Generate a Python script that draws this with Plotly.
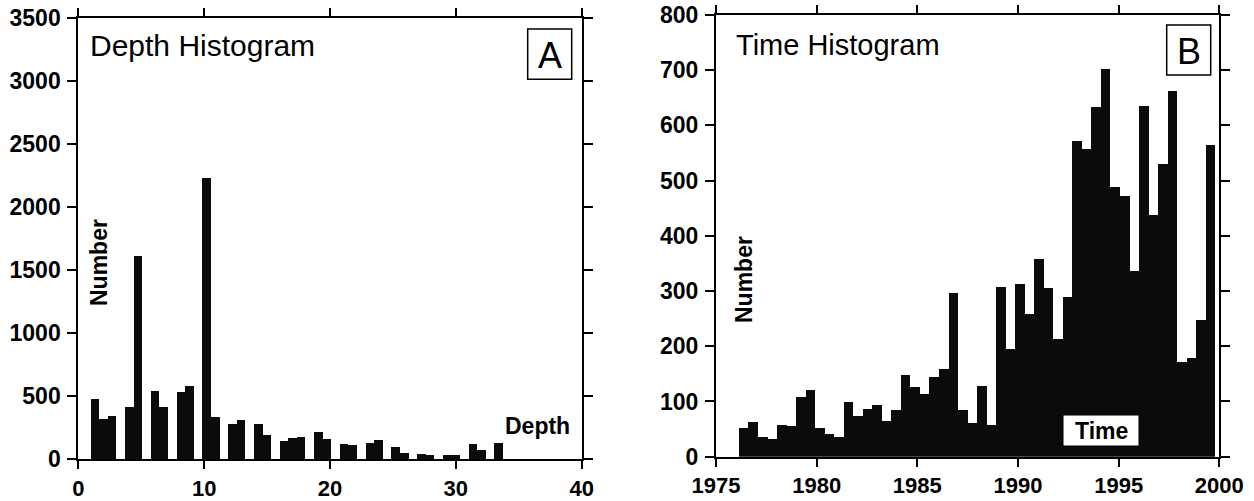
import plotly.graph_objects as go

W, H = 1254, 501

# ---- Data ----
depth_bin_start = 1.01
depth_bin_width = 0.6826
depth_counts = [476, 317, 344, 0, 410, 1614, 0, 537, 410, 0, 529, 576, 0, 2233, 333, 0,
                280, 307, 0, 280, 188, 0, 140, 164, 172, 0, 211, 159, 0, 119, 111, 0,
                127, 148, 0, 95, 45, 0, 42, 32, 0, 34, 34, 0, 119, 71, 0, 127]

time_bin_start = 1976.14
time_bin_width = 0.4732
time_counts = [52, 62, 35, 32, 58, 56, 108, 120, 52, 42, 35, 99, 73, 87, 93, 65, 84, 148,
               126, 113, 145, 159, 297, 84, 61, 128, 58, 307, 195, 313, 258, 358, 306, 214,
               289, 572, 557, 633, 702, 489, 472, 337, 636, 438, 531, 662, 171, 178, 248, 564]

depth_ticks = [0, 10, 20, 30, 40]
depth_y_ticks = [0, 500, 1000, 1500, 2000, 2500, 3000, 3500]
time_ticks = [1975, 1980, 1985, 1990, 1995, 2000]
time_y_ticks = [0, 100, 200, 300, 400, 500, 600, 700, 800]

depth_centers = [depth_bin_start + (i + 0.5) * depth_bin_width for i in range(len(depth_counts))]
time_centers = [time_bin_start + (i + 0.5) * time_bin_width for i in range(len(time_counts))]

def px(x):
    return x / W

def py(y):
    return (H - y) / H

FONT = "Liberation Sans, Arial, sans-serif"
BAR = "#0b0b0b"

fig = go.Figure()
fig.add_trace(go.Bar(x=depth_centers, y=depth_counts, width=depth_bin_width,
                     marker=dict(color=BAR, line=dict(width=0)), xaxis="x", yaxis="y",
                     showlegend=False))
fig.add_trace(go.Bar(x=time_centers, y=time_counts, width=time_bin_width,
                     marker=dict(color=BAR, line=dict(width=0)), xaxis="x2", yaxis="y2",
                     showlegend=False))

axis_common = dict(showgrid=False, zeroline=False, showline=True, linecolor="black",
                   linewidth=2, mirror="ticks", ticks="outside", tickwidth=2,
                   tickcolor="black", automargin=False)
yfont = dict(family=FONT, size=23, color="black", weight="bold")
xfont = dict(family=FONT, size=22, color="black", weight="bold")

fig.update_layout(
    width=W, height=H,
    margin=dict(l=0, r=0, t=0, b=0, autoexpand=False),
    paper_bgcolor="white", plot_bgcolor="white",
    bargap=0,
    xaxis=dict(domain=[px(78.3), px(581.7)], range=[0, 40], tickvals=depth_ticks,
               anchor="y", ticklabelstandoff=0, ticklen=8, tickfont=xfont, **axis_common),
    yaxis=dict(domain=[py(459.3), py(18.3)], range=[0, 3500], tickvals=depth_y_ticks,
               anchor="x", ticklabelstandoff=2, ticklen=9, tickfont=yfont, **axis_common),
    xaxis2=dict(domain=[px(716), px(1219.3)], range=[1975, 2000], tickvals=time_ticks,
                anchor="y2", ticklabelstandoff=0, ticklen=8, tickfont=xfont, **axis_common),
    yaxis2=dict(domain=[py(456.7), py(15)], range=[0, 800], tickvals=time_y_ticks,
                anchor="x2", ticklabelstandoff=2, ticklen=9, tickfont=yfont, **axis_common),
)

ann = []
shapes = []

# Titles inside panels
ann.append(dict(x=px(88), y=py(46), xref="paper", yref="paper", xanchor="left", yanchor="middle",
                text="Depth Histogram", showarrow=False,
                font=dict(family=FONT, size=30, color="black")))
ann.append(dict(x=px(734), y=py(45), xref="paper", yref="paper", xanchor="left", yanchor="middle",
                text="Time Histogram", showarrow=False,
                font=dict(family=FONT, size=29, color="black")))

# Panel letter boxes
shapes.append(dict(type="rect", xref="paper", yref="paper", x0=px(527.7), x1=px(571.7),
                   y0=py(79.3), y1=py(29), line=dict(color="black", width=1.5),
                   fillcolor="white", layer="above"))
ann.append(dict(x=px(549.7), y=py(55), xref="paper", yref="paper", xanchor="center",
                yanchor="middle", text="A", showarrow=False,
                font=dict(family=FONT, size=36, color="black")))
shapes.append(dict(type="rect", xref="paper", yref="paper", x0=px(1166.7), x1=px(1210.7),
                   y0=py(75), y1=py(25), line=dict(color="black", width=1.5),
                   fillcolor="white", layer="above"))
ann.append(dict(x=px(1188.7), y=py(51), xref="paper", yref="paper", xanchor="center",
                yanchor="middle", text="B", showarrow=False,
                font=dict(family=FONT, size=36, color="black")))

# Axis labels inside the panels
ann.append(dict(x=px(99), y=py(263), xref="paper", yref="paper", xanchor="center",
                yanchor="middle", text="Number", textangle=-90, showarrow=False,
                font=dict(family=FONT, size=23, color="black", weight="bold")))
ann.append(dict(x=px(744), y=py(280), xref="paper", yref="paper", xanchor="center",
                yanchor="middle", text="Number", textangle=-90, showarrow=False,
                font=dict(family=FONT, size=23, color="black", weight="bold")))
ann.append(dict(x=px(537), y=py(426), xref="paper", yref="paper", xanchor="center",
                yanchor="middle", text="Depth", showarrow=False,
                font=dict(family=FONT, size=23, color="black", weight="bold")))

# Time label in white box
shapes.append(dict(type="rect", xref="paper", yref="paper", x0=px(1063), x1=px(1139),
                   y0=py(446), y1=py(415), line=dict(color="black", width=1),
                   fillcolor="white", layer="above"))
ann.append(dict(x=px(1101), y=py(431), xref="paper", yref="paper", xanchor="center",
                yanchor="middle", text="Time", showarrow=False,
                font=dict(family=FONT, size=23, color="black", weight="bold")))

fig.update_layout(annotations=ann, shapes=shapes)

fig.write_html("out.html")
